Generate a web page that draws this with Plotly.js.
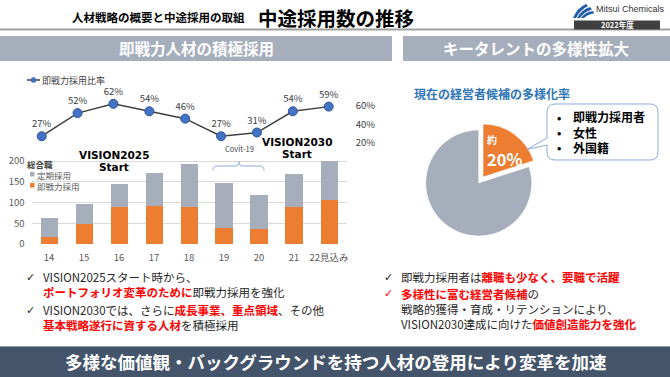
<!DOCTYPE html>
<html><head><meta charset="utf-8">
<script src="https://cdn.plot.ly/plotly-3.0.1.min.js"></script>
<style>html,body{margin:0;padding:0;background:#fff;}#chart{width:670px;height:377px;}</style>
</head><body><div id="chart"></div>
<script>
// ---- data ----
const categories = ['14','15','16','17','18','19','20','21','22見込み'];
const totalHires = [62, 96, 145, 171, 193, 146, 119, 169, 200];
const midCareerHires = [17, 49, 88, 91, 88, 38, 36, 90, 107];
const midCareerRatio = [27, 52, 62, 54, 46, 27, 31, 54, 59];
const ratioTicks = [20, 40, 60];
const barTicks = [0, 50, 100, 150, 200];
const pieLabels = ['即戦力採用者・女性・外国籍', 'その他'];
const pieValues = [20, 80];
const regularHires = totalHires.map((t, i) => t - midCareerHires[i]);

const W = 670, H = 377;
const px = x => x / W;
const py = y => 1 - y / H;
const P = cmds => cmds.map(c => typeof c === 'string' ? c : px(c[0]).toFixed(5) + ',' + py(c[1]).toFixed(5)).join(' ');
const JP = '"Noto Sans CJK JP", "Noto Sans", sans-serif';
const RED = s => '<b><span style="color:#FF0000">' + s + '</span></b>';

const GRAY = '#A6AEBB', ORANGE = '#ED7D31';

const traces = [
  {type:'bar', name:'即戦力採用', x:categories, y:midCareerHires, xaxis:'x', yaxis:'y',
   marker:{color:ORANGE}, hoverinfo:'skip'},
  {type:'bar', name:'定期採用', x:categories, y:regularHires, xaxis:'x', yaxis:'y',
   marker:{color:GRAY}, hoverinfo:'skip'},
  {type:'scatter', mode:'lines+markers+text', name:'即戦力採用比率', x:categories, y:midCareerRatio,
   xaxis:'x2', yaxis:'y2', line:{color:'#404040', width:1.5},
   marker:{size:9, color:'#4472C4', line:{color:'#2F5597', width:1}},
   text:midCareerRatio.map(v => v + '%'), textposition:'top center',
   textfont:{family:JP, size:9.5, color:'#404040'}, cliponaxis:false, hoverinfo:'skip'},
  {type:'pie', labels:pieLabels, values:pieValues, sort:false, direction:'clockwise', rotation:0,
   pull:[0.14, 0], marker:{colors:[ORANGE, GRAY], line:{color:'#ffffff', width:0.5}},
   textinfo:'none', hoverinfo:'skip', showlegend:false,
   domain:{x:[px(418.3), px(539.1)], y:[py(243.4), py(122.6)]}}
];

const shapes = [
  {type:'line', xref:'paper', yref:'paper', x0:0, x1:1, y0:py(29.5), y1:py(29.5), line:{color:'#A0A0A0', width:2}},
  {type:'rect', xref:'paper', yref:'paper', x0:px(574), x1:px(660), y0:py(29.5), y1:py(20.5), fillcolor:'#404040', line:{width:0}},
  {type:'path', xref:'paper', yref:'paper', fillcolor:'#1F5DAA', line:{width:0},
   path:P(['M',[573,18],'Q',[577,8],[586,4],'L',[588,6],'Q',[580,10],[576,18],'Z'])},
  {type:'path', xref:'paper', yref:'paper', fillcolor:'#1F5DAA', line:{width:0},
   path:P(['M',[577,18],'Q',[581,10],[590,7],'L',[592,9.5],'Q',[584,12],[580,18],'Z'])},
  {type:'path', xref:'paper', yref:'paper', fillcolor:'#1F5DAA', line:{width:0},
   path:P(['M',[581,18],'Q',[585,12],[593,11],'L',[594,13.5],'Q',[588,14],[584,18],'Z'])},
  {type:'rect', xref:'paper', yref:'paper', x0:0, x1:px(392), y0:py(61), y1:py(36), fillcolor:'#A6AEBC', line:{width:0}},
  {type:'rect', xref:'paper', yref:'paper', x0:px(403), x1:1, y0:py(61), y1:py(36), fillcolor:'#A6AEBC', line:{width:0}},
  {type:'rect', xref:'paper', yref:'paper', x0:0, x1:1, y0:0, y1:py(346), fillcolor:'#44546A', line:{width:0}},
  {type:'line', xref:'paper', yref:'paper', x0:0, x1:1, y0:py(346.5), y1:py(346.5), line:{color:'#8C99AC', width:1}},
  {type:'line', xref:'paper', yref:'paper', x0:px(27), x1:px(40), y0:py(80), y1:py(80), line:{color:'#404040', width:1.5}},
  {type:'circle', xref:'paper', yref:'paper', x0:px(31), x1:px(36), y0:py(82.5), y1:py(77.5), fillcolor:'#4472C4', line:{color:'#2F5597', width:0.5}},
  {type:'rect', xref:'paper', yref:'paper', x0:px(30), x1:px(34.5), y0:py(176.5), y1:py(172), fillcolor:GRAY, line:{width:0}},
  {type:'rect', xref:'paper', yref:'paper', x0:px(30), x1:px(34.5), y0:py(187.5), y1:py(183), fillcolor:ORANGE, line:{width:0}},
  {type:'path', xref:'paper', yref:'paper', line:{color:'#8FAADC', width:1},
   path:P(['M',[213,170.5],'Q',[213,166],[217,166],'L',[235.5,166],'Q',[239,166],[239,161.5],'Q',[239,166],[242.5,166],'L',[260,166],'Q',[264,166],[264,170.5]])},
  {type:'path', xref:'paper', yref:'paper', fillcolor:'#FFFFFF', line:{color:'#8FAADC', width:1},
   path:P(['M',[555,104],'L',[650,104],'Q',[658,104],[658,112],'L',[658,152],'Q',[658,160],[650,160],
           'L',[555,160],'Q',[547,160],[547,152],'L',[547,145],'L',[527,149.5],'L',[547,138],'L',[547,112],'Q',[547,104],[555,104],'Z'])}
];

function ann(x, y, text, o) {
  o = o || {};
  return Object.assign({xref:'paper', yref:'paper', x:px(x), y:py(y), text:text, showarrow:false,
    xanchor:o.xa || 'left', yanchor:'middle', align:o.xa || 'left', borderpad:0, borderwidth:0,
    font:{family:o.family || JP, size:o.size || 11.5, color:o.color || '#262626'}}, o.extra || {});
}
const CHK = {size:11, family:'"DejaVu Sans", sans-serif'};

const annotations = [
  ann(72, 17, '<b>人材戦略の概要と中途採用の取組</b>', {size:11.5, color:'#000'}),
  ann(258, 17, '<b>中途採用数の推移</b>', {size:19.5, color:'#000'}),
  ann(630, 8.5, 'Mitsui Chemicals', {xa:'center', size:9, color:'#333', family:'"Liberation Sans Narrow", "Liberation Sans", sans-serif'}),
  ann(617, 25, '<b>2022年度</b>', {xa:'center', size:7.5, color:'#fff'}),
  ann(196, 48.5, '<b>即戦力人材の積極採用</b>', {xa:'center', size:15.5, color:'#fff'}),
  ann(536, 48.5, '<b>キータレントの多様性拡大</b>', {xa:'center', size:15.5, color:'#fff'}),
  ann(42, 80, '即戦力採用比率', {size:9, color:'#404040'}),
  ann(27, 164, '<b>総合職</b>', {size:8.5, color:'#404040'}),
  ann(37, 174.5, '定期採用', {size:8.5, color:'#595959'}),
  ann(37, 185.5, '即戦力採用', {size:8.5, color:'#595959'}),
  ann(114, 155, '<b>VISION2025</b>', {xa:'center', size:10.5, color:'#000', family:'"DejaVu Sans", sans-serif'}),
  ann(114, 166.5, '<b>Start</b>', {xa:'center', size:10.5, color:'#000', family:'"DejaVu Sans", sans-serif'}),
  ann(297, 141.5, '<b>VISION2030</b>', {xa:'center', size:10.5, color:'#000', family:'"DejaVu Sans", sans-serif'}),
  ann(297, 153.5, '<b>Start</b>', {xa:'center', size:10.5, color:'#000', family:'"DejaVu Sans", sans-serif'}),
  ann(239, 148.3, 'Covit-19', {xa:'center', size:7.5, color:'#404040'}),
  ann(414, 93, '<b>現在の経営者候補の多様化率</b>', {size:12, color:'#2E75B6'}),
  ann(487, 139, '<b>約</b>', {size:10, color:'#fff'}),
  ann(487, 158.5, '<b>20%</b>', {size:16.5, color:'#fff'}),
  ann(557, 131.8, '<b>•<br>•<br>•</b>', {size:11.5, color:'#000'}),
  ann(573, 131.8, '<b>即戦力採用者<br>女性<br>外国籍</b>', {size:12, color:'#000'}),
  // bottom-left notes
  ann(26, 277.5, '✓', CHK),
  ann(43, 284.75, 'VISION2025スタート時から、<br>' + RED('ポートフォリオ変革のために') + '即戦力採用を強化'),
  ann(26, 310.5, '✓', CHK),
  ann(43, 317.75, 'VISION2030では、さらに' + RED('成長事業、重点領域') + '、その他<br>' + RED('基本戦略遂行に資する人材') + 'を積極採用'),
  // bottom-right notes
  ann(384, 277, '✓', CHK),
  ann(401, 277, '即戦力採用者は' + RED('離職も少なく、要職で活躍')),
  ann(384, 293.5, '<b>✓</b>', {size:11, color:'#FF0000', family:'"DejaVu Sans", sans-serif'}),
  ann(401, 308.5, RED('多様性に富む経営者候補') + 'の<br>戦略的獲得・育成・リテンションにより、<br>VISION2030達成に向けた' + RED('価値創造能力を強化')),
  ann(336, 361.5, '<b>多様な価値観・バックグラウンドを持つ人材の登用により変革を加速</b>', {xa:'center', size:17.5, color:'#fff'})
];

const layout = {
  width:W, height:H, autosize:false, margin:{l:0, r:0, t:0, b:0},
  paper_bgcolor:'#fff', plot_bgcolor:'rgba(0,0,0,0)', showlegend:false,
  barmode:'stack', bargap:0.514,
  font:{family:JP, color:'#404040'},
  xaxis:{domain:[px(31.5), px(346.5)], anchor:'y', type:'category', range:[-0.5, 8.5],
         showgrid:false, showline:false, zeroline:false, ticks:'', ticklabelstandoff:6,
         tickfont:{family:JP, size:9.5, color:'#595959'}, fixedrange:true},
  yaxis:{domain:[py(244), py(156.85)], anchor:'x', range:[0, 210], tickvals:barTicks,
         showgrid:true, gridcolor:'#D9D9D9', gridwidth:1, zeroline:false, showline:false, ticks:'',
         ticklabelstandoff:6, tickfont:{family:JP, size:9.5, color:'#595959'}, fixedrange:true},
  xaxis2:{domain:[px(23.75), px(346.65)], anchor:'y2', type:'category', range:[-0.5, 8.5], visible:false},
  yaxis2:{domain:[py(161.2), py(87.2)], anchor:'x2', side:'right', range:[0, 80], tickvals:ratioTicks,
          ticktext:ratioTicks.map(v => v + '%'), showgrid:false, zeroline:false, showline:false, ticks:'',
          ticklabelstandoff:8, tickfont:{family:JP, size:9.5, color:'#404040'}},
  shapes:shapes, annotations:annotations
};

Plotly.newPlot('chart', traces, layout, {staticPlot:true, displayModeBar:false});
</script></body></html>
